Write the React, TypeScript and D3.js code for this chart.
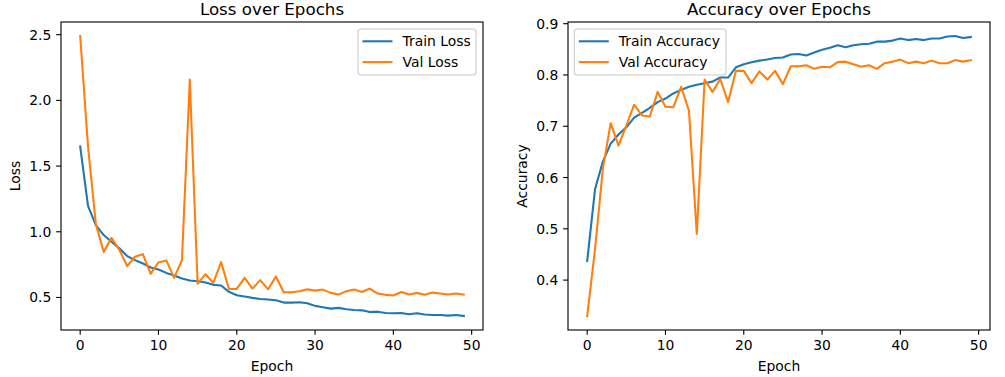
import React from "react";
import * as d3 from "d3";

const epochs = d3.range(50);
const trainLoss = [1.65, 1.197, 1.05, 0.975, 0.924, 0.874, 0.815, 0.784, 0.759, 0.728, 0.713, 0.687, 0.667, 0.644, 0.629, 0.624, 0.614, 0.596, 0.591, 0.543, 0.517, 0.507, 0.497, 0.489, 0.484, 0.479, 0.461, 0.461, 0.463, 0.456, 0.436, 0.426, 0.415, 0.421, 0.41, 0.405, 0.402, 0.39, 0.392, 0.382, 0.38, 0.382, 0.372, 0.38, 0.37, 0.367, 0.367, 0.362, 0.367, 0.359];
const valLoss = [2.49, 1.65, 1.06, 0.847, 0.954, 0.862, 0.739, 0.81, 0.83, 0.68, 0.767, 0.782, 0.649, 0.784, 2.158, 0.604, 0.677, 0.611, 0.769, 0.565, 0.565, 0.649, 0.567, 0.632, 0.562, 0.659, 0.54, 0.54, 0.548, 0.563, 0.552, 0.56, 0.535, 0.522, 0.548, 0.56, 0.542, 0.568, 0.53, 0.52, 0.515, 0.542, 0.522, 0.535, 0.52, 0.537, 0.53, 0.522, 0.53, 0.522];
const trainAcc = [0.437, 0.577, 0.631, 0.666, 0.684, 0.698, 0.717, 0.726, 0.736, 0.747, 0.754, 0.764, 0.771, 0.777, 0.781, 0.784, 0.787, 0.795, 0.795, 0.815, 0.821, 0.825, 0.828, 0.83, 0.833, 0.834, 0.84, 0.841, 0.838, 0.844, 0.849, 0.853, 0.858, 0.854, 0.858, 0.86, 0.861, 0.865, 0.865, 0.867, 0.871, 0.868, 0.87, 0.868, 0.871, 0.871, 0.875, 0.876, 0.872, 0.874];
const valAcc = [0.33, 0.46, 0.617, 0.706, 0.662, 0.701, 0.742, 0.721, 0.719, 0.767, 0.738, 0.737, 0.777, 0.73, 0.49, 0.791, 0.767, 0.792, 0.747, 0.808, 0.808, 0.784, 0.807, 0.791, 0.808, 0.782, 0.817, 0.817, 0.819, 0.812, 0.816, 0.815, 0.825, 0.826, 0.821, 0.816, 0.819, 0.812, 0.823, 0.826, 0.83, 0.823, 0.826, 0.823, 0.828, 0.823, 0.823, 0.829, 0.826, 0.829];
const xTicks = [0, 10, 20, 30, 40, 50];
const lossTicks = [0.5, 1.0, 1.5, 2.0, 2.5];
const accTicks = [0.4, 0.5, 0.6, 0.7, 0.8, 0.9];

const BLUE = "#1f77b4";
const ORANGE = "#ff7f0e";
const FONT = "DejaVu Sans, sans-serif";
const FS = 13.9;
const TS = 16.7;
const TICK = 4.86;
const SPINE = 1.11;

type PanelProps = {
  id: string;
  left: number;
  right: number;
  top: number;
  bottom: number;
  title: string;
  ylabel: string;
  series: { name: string; values: number[]; color: string }[];
  yTicks: number[];
  legendX: number;
  legendW: number;
};

function Panel({ id, left, right, top, bottom, title, ylabel, series, yTicks, legendX, legendW }: PanelProps) {
  const x = d3.scaleLinear().domain([-2.45, 51.45]).range([left, right]);
  const all = series.flatMap((s) => s.values);
  const mn = d3.min(all)!;
  const mx = d3.max(all)!;
  const m = (mx - mn) * 0.05;
  const y = d3.scaleLinear().domain([mn - m, mx + m]).range([bottom, top]);
  const line = d3
    .line<number>()
    .x((_, i) => x(epochs[i]))
    .y((d) => y(d));
  const cx = (left + right) / 2;
  const cy = (top + bottom) / 2;
  const ly = top + 7;
  return (
    <g fontFamily={FONT}>
      <text x={cx} y={top - 7.5} textAnchor="middle" fontSize={TS} fill="#000">
        {title}
      </text>
      <defs>
        <clipPath id={"clip-" + id}>
          <rect x={left} y={top} width={right - left} height={bottom - top} />
        </clipPath>
      </defs>
      <g clipPath={`url(#clip-${id})`}>
        {series.map((s) => (
          <path key={s.name} d={line(s.values)!} fill="none" stroke={s.color} strokeWidth={2.08} strokeLinejoin="round" strokeLinecap="square" />
        ))}
      </g>
      <rect x={left} y={top} width={right - left} height={bottom - top} fill="none" stroke="#000" strokeWidth={SPINE} />
      {xTicks.map((t) => (
        <g key={t}>
          <line x1={x(t)} x2={x(t)} y1={bottom} y2={bottom + TICK} stroke="#000" strokeWidth={SPINE} />
          <text x={x(t)} y={bottom + 20} textAnchor="middle" fontSize={FS} fill="#000">
            {t}
          </text>
        </g>
      ))}
      {yTicks.map((t) => (
        <g key={t}>
          <line x1={left - TICK} x2={left} y1={y(t)} y2={y(t)} stroke="#000" strokeWidth={SPINE} />
          <text x={left - 9.7} y={y(t) + 5} textAnchor="end" fontSize={FS} fill="#000">
            {t.toFixed(1)}
          </text>
        </g>
      ))}
      <text x={cx} y={bottom + 41} textAnchor="middle" fontSize={FS} fill="#000">
        Epoch
      </text>
      <text transform={`translate(${left - 41.5},${cy}) rotate(-90)`} textAnchor="middle" fontSize={FS} fill="#000">
        {ylabel}
      </text>
      <rect x={legendX} y={ly} width={legendW} height={46} rx={3} fill="#fff" fillOpacity={0.8} stroke="#cccccc" strokeWidth={SPINE} />
      {series.map((s, i) => (
        <g key={s.name}>
          <line x1={legendX + 4.5} x2={legendX + 34.5} y1={ly + 12.3 + i * 20.8} y2={ly + 12.3 + i * 20.8} stroke={s.color} strokeWidth={2.08} />
          <text x={legendX + 44.5} y={ly + 12.3 + i * 20.8 + 5} fontSize={FS} fill="#000">
            {s.name}
          </text>
        </g>
      ))}
    </g>
  );
}

export default function App() {
  return (
    <svg width={1005} height={377} style={{ position: "absolute", left: 0, top: 0, background: "#fff" }}>
      <rect width={1005} height={377} fill="#fff" />
      <Panel
        id="loss"
        left={61}
        right={483}
        top={22}
        bottom={330}
        title="Loss over Epochs"
        ylabel="Loss"
        series={[
          { name: "Train Loss", values: trainLoss, color: BLUE },
          { name: "Val Loss", values: valLoss, color: ORANGE },
        ]}
        yTicks={lossTicks}
        legendX={358}
        legendW={118}
      />
      <Panel
        id="acc"
        left={568}
        right={990}
        top={22}
        bottom={330}
        title="Accuracy over Epochs"
        ylabel="Accuracy"
        series={[
          { name: "Train Accuracy", values: trainAcc, color: BLUE },
          { name: "Val Accuracy", values: valAcc, color: ORANGE },
        ]}
        yTicks={accTicks}
        legendX={574.3}
        legendW={151.7}
      />
    </svg>
  );
}
